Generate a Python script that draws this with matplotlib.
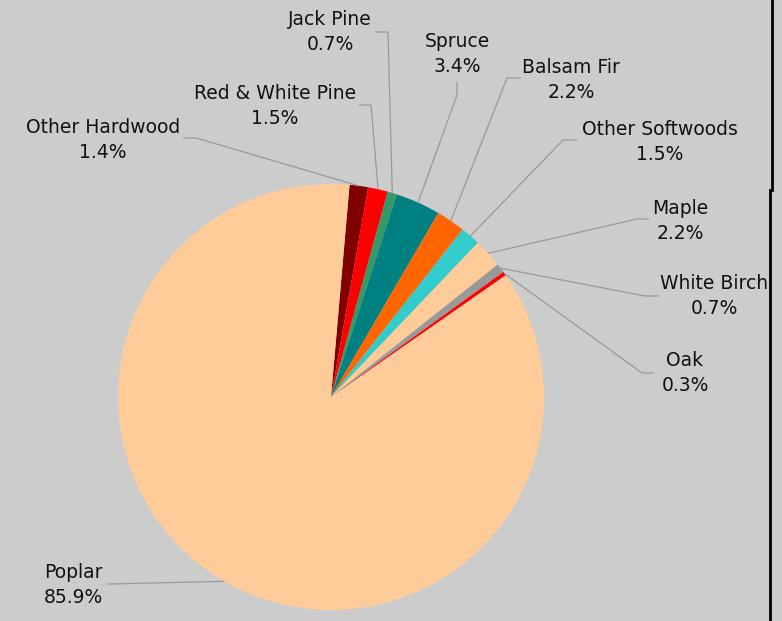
import matplotlib.pyplot as plt
import numpy as np

species = ["Other Hardwood", "Red & White Pine", "Jack Pine", "Spruce", "Balsam Fir",
           "Other Softwoods", "Maple", "White Birch", "Oak", "Poplar"]
shares = [1.4, 1.5, 0.7, 3.4, 2.2, 1.5, 2.2, 0.7, 0.3, 85.9]
colors = ["#800000", "#ff0000", "#339966", "#008080", "#ff6600",
          "#33cccc", "#ffcc99", "#999999", "#ff0000", "#ffcc99"]

# label block centre, leader elbow and leader end (pixel coords, y down)
label_pos = [(103, 140), (275, 106), (330, 32), (457, 54), (571, 80),
             (660, 142), (680, 221), (714, 296), (685, 373), (73, 585)]
elbows = [(196, 138), (371, 105), (388, 32), (457, 95), (507, 78),
          (563, 140), (637, 219), (645, 296), (642, 373), (110, 584)]
ends = [(183, 138), (359, 105), (375, 32), (457, 82), (521, 78),
        (577, 140), (649, 219), (659, 296), (654, 373), (107, 584)]

W, H = 782, 621
cx, cy, R = 331, 397, 213
start = 85

fig = plt.figure(figsize=(W / 100, H / 100), dpi=100)
fig.patch.set_facecolor("#cccccc")
ax = fig.add_axes([0, 0, 1, 1])
ax.set_facecolor("#cccccc")

wedges, _ = ax.pie(shares, colors=colors, startangle=start, counterclock=False,
                   center=(cx, H - cy), radius=R, wedgeprops=dict(linewidth=0))
ax.set_xlim(0, W)
ax.set_ylim(0, H)
ax.set_aspect("equal")
ax.axis("off")

for w, name, val, (tx, ty), (ex, ey), (fx, fy) in zip(
        wedges, species, shares, label_pos, elbows, ends):
    mid = np.deg2rad((w.theta1 + w.theta2) / 2)
    px = cx + R * np.cos(mid)
    py = H - cy + R * np.sin(mid)
    ax.plot([px, ex, fx], [py, H - ey, H - fy], color="#999999", lw=0.9,
            solid_capstyle="butt")
    ax.text(tx, H - ty, f"{name}\n{val:.1f}%", ha="center", va="center",
            fontsize=13.5, color="#111111", linespacing=1.42,
            family="DejaVu Sans")

# frame edge on the right
ax.plot([772, 772], [H, H - 190], color="black", lw=2)
ax.plot([770, 770], [H - 190, 0], color="black", lw=2)

fig.savefig("out.png", dpi=100, facecolor=fig.get_facecolor())
